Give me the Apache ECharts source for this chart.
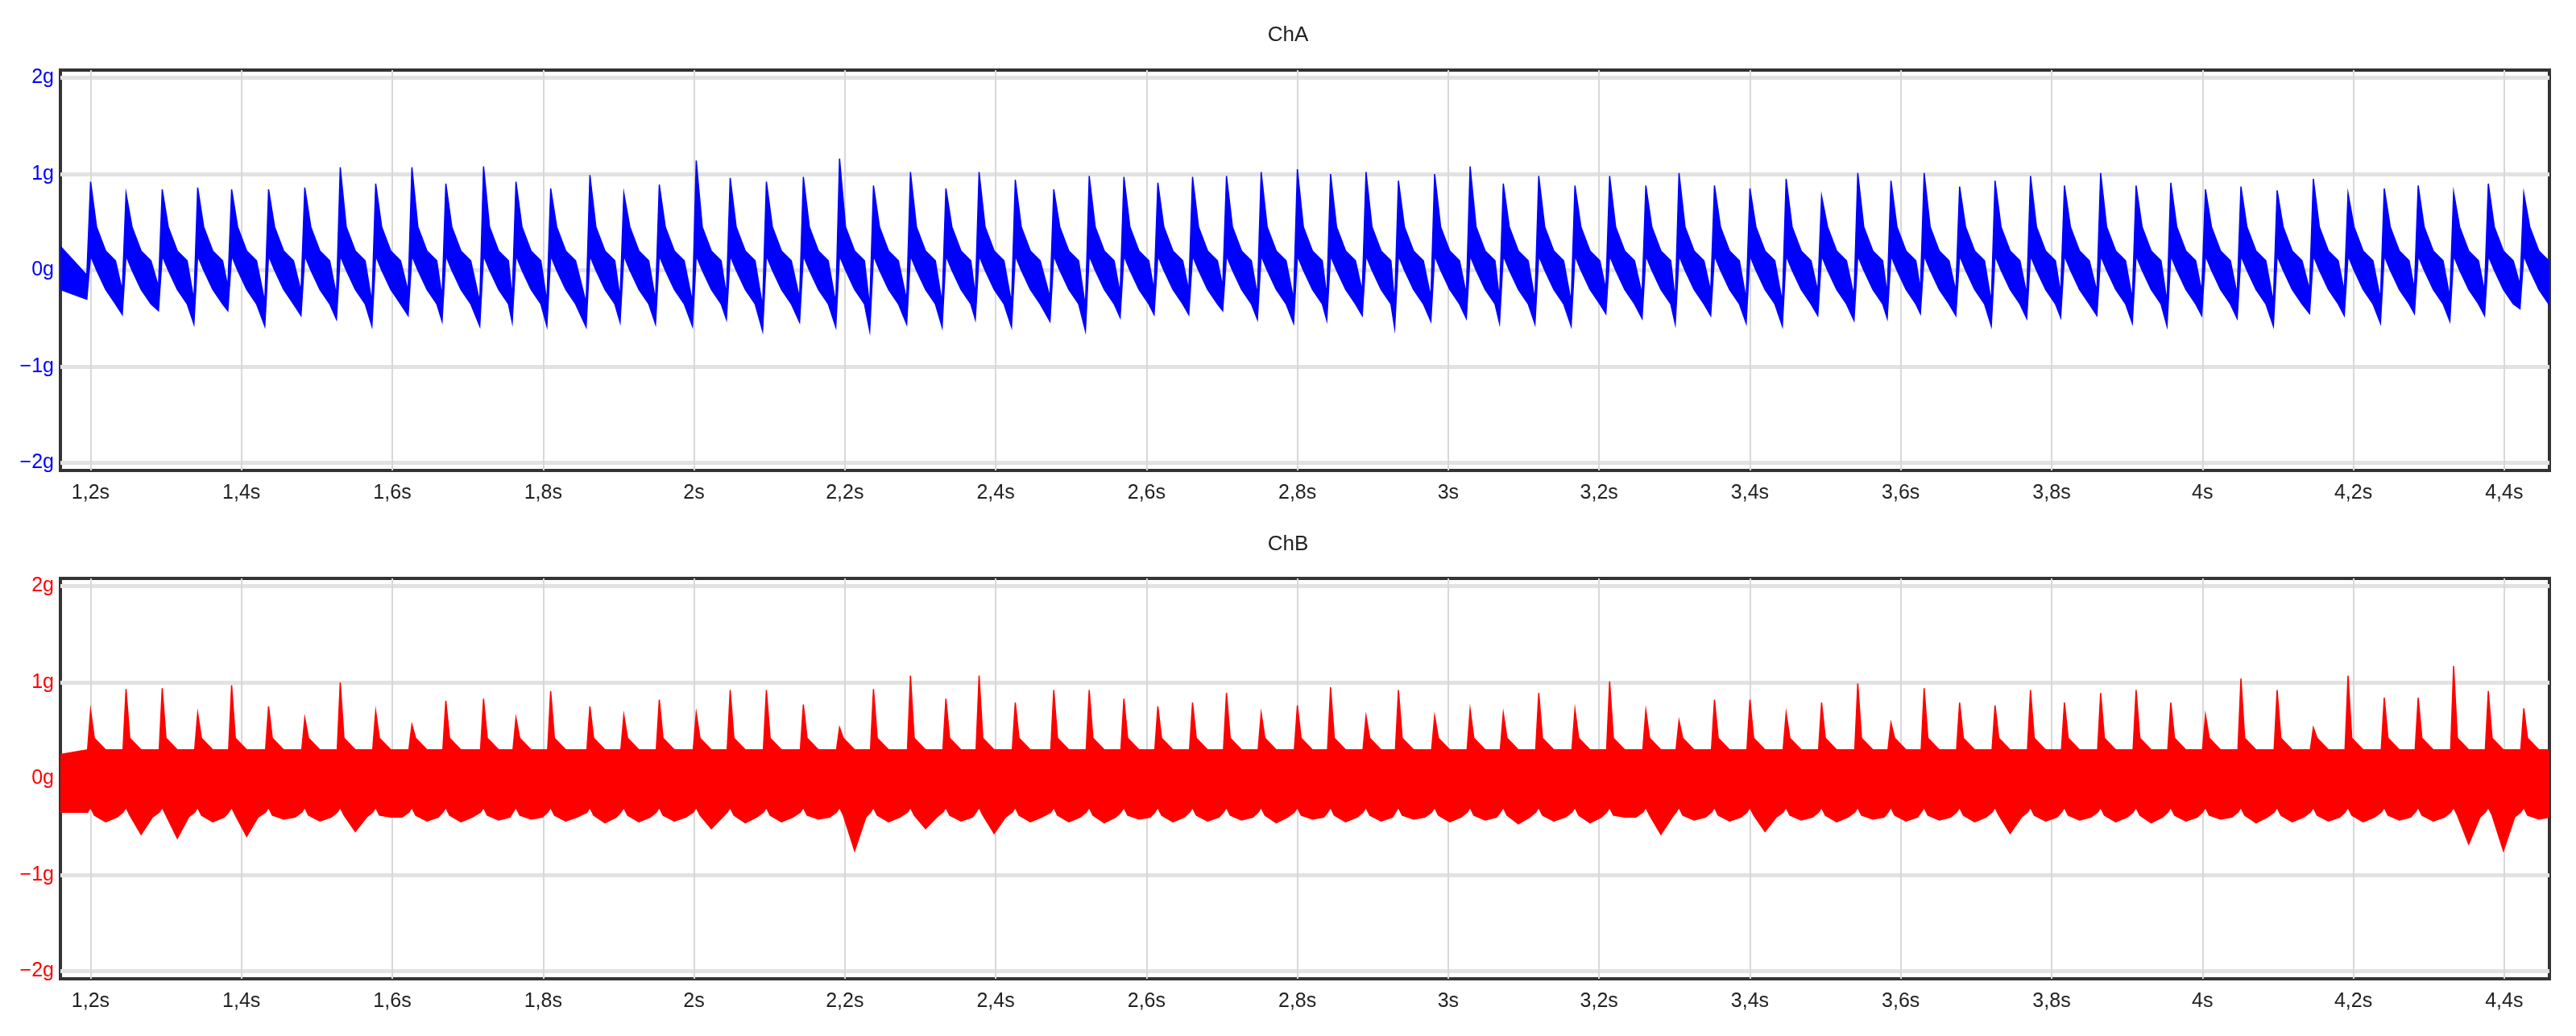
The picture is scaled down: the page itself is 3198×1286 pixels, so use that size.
<!DOCTYPE html>
<html>
<head>
<meta charset="utf-8">
<script src="https://cdn.jsdelivr.net/npm/echarts@6/dist/echarts.min.js"></script>
<style>
html, body { margin: 0; padding: 0; background: #fff; }
#chart { width: 3198px; height: 1286px; }
</style>
</head>
<body>
<div id="chart"></div>
<script>
// times of the per-cycle peaks (s)
var peakTimes = [1.200, 1.247, 1.295, 1.342, 1.387, 1.436, 1.484, 1.531, 1.578, 1.626, 1.671, 1.721,
    1.764, 1.810, 1.862, 1.907, 1.954, 2.003, 2.048, 2.096, 2.145, 2.193, 2.238, 2.287, 2.334, 2.378,
    2.426, 2.477, 2.524, 2.570, 2.615, 2.661, 2.706, 2.752, 2.800, 2.844, 2.891, 2.934, 2.982, 3.029,
    3.073, 3.120, 3.168, 3.214, 3.262, 3.306, 3.353, 3.400, 3.448, 3.495, 3.543, 3.587, 3.631, 3.678,
    3.725, 3.772, 3.817, 3.865, 3.912, 3.958, 4.004, 4.051, 4.099, 4.147, 4.193, 4.241, 4.286, 4.333,
    4.379, 4.426];
// ChA peak heights (g)
var chAPeaks = [0.92, 0.80, 0.84, 0.86, 0.84, 0.84, 0.86, 1.07, 0.90, 1.07, 0.90, 1.08, 0.92, 0.85,
    0.99, 0.80, 0.89, 1.14, 0.96, 0.92, 0.97, 1.16, 0.88, 1.02, 0.85, 1.02, 0.94, 0.84, 0.98, 0.97,
    0.91, 0.97, 0.98, 1.02, 1.05, 1.00, 1.02, 0.93, 1.00, 1.08, 0.90, 0.98, 0.88, 0.98, 0.88, 1.01,
    0.88, 0.85, 0.95, 0.77, 1.01, 0.93, 1.01, 0.87, 0.93, 0.98, 0.88, 1.01, 0.88, 0.91, 0.84, 0.87,
    0.83, 0.95, 0.80, 0.85, 0.88, 0.81, 0.90, 0.80];
// ChA troughs just before each peak (g)
var chATroughs = [-0.30, -0.46, -0.42, -0.56, -0.42, -0.58, -0.47, -0.51, -0.58, -0.47, -0.53, -0.58,
    -0.54, -0.58, -0.59, -0.54, -0.56, -0.58, -0.51, -0.63, -0.54, -0.59, -0.63, -0.56, -0.59, -0.51,
    -0.59, -0.53, -0.63, -0.49, -0.46, -0.46, -0.42, -0.51, -0.55, -0.52, -0.47, -0.60, -0.53, -0.50,
    -0.55, -0.56, -0.58, -0.45, -0.50, -0.56, -0.47, -0.55, -0.58, -0.47, -0.52, -0.50, -0.45, -0.47,
    -0.58, -0.50, -0.49, -0.47, -0.55, -0.58, -0.47, -0.50, -0.58, -0.45, -0.47, -0.55, -0.45, -0.53,
    -0.47, -0.40];
// ChB spike heights (g)
var chBPeaks = [0.71, 0.93, 0.94, 0.68, 0.97, 0.75, 0.63, 1.00, 0.70, 0.56, 0.81, 0.83, 0.63, 0.91,
    0.75, 0.66, 0.82, 0.68, 0.92, 0.92, 0.77, 0.53, 0.93, 1.07, 0.83, 1.07, 0.79, 0.92, 0.92, 0.83,
    0.75, 0.79, 0.89, 0.68, 0.76, 0.95, 0.65, 0.92, 0.65, 0.72, 0.68, 0.89, 0.72, 1.01, 0.71, 0.60,
    0.82, 0.82, 0.68, 0.79, 0.99, 0.58, 0.94, 0.79, 0.76, 0.92, 0.79, 0.89, 0.92, 0.79, 0.66, 1.04,
    0.92, 0.53, 1.07, 0.84, 0.84, 1.17, 0.91, 0.73];
// ChB lowest dip in each cycle (g)
var chBDips = [-0.45, -0.58, -0.62, -0.45, -0.60, -0.42, -0.44, -0.55, -0.40, -0.44, -0.45, -0.43,
    -0.42, -0.44, -0.46, -0.45, -0.44, -0.52, -0.46, -0.45, -0.42, -0.75, -0.45, -0.52, -0.44, -0.57,
    -0.45, -0.45, -0.46, -0.42, -0.45, -0.44, -0.43, -0.46, -0.42, -0.45, -0.44, -0.42, -0.45, -0.43,
    -0.47, -0.44, -0.46, -0.40, -0.58, -0.43, -0.44, -0.55, -0.43, -0.45, -0.42, -0.44, -0.43, -0.45,
    -0.57, -0.44, -0.43, -0.45, -0.46, -0.44, -0.42, -0.46, -0.45, -0.44, -0.45, -0.43, -0.44, -0.68,
    -0.75, -0.42];
var yTicks = [-2, -1, 0, 1, 2];
var xTicks = [1.2, 1.4, 1.6, 1.8, 2, 2.2, 2.4, 2.6, 2.8, 3, 3.2, 3.4, 3.6, 3.8, 4, 4.2, 4.4];

// rows [t, upper, lower]; the band between the envelopes is the noisy trace
function envelopes(peaks, lowVals, isA) {
    var rows = [];
    function add(t, u, l) { rows.push([t, u, l]); }
    add(1.16, 0.25, isA ? -0.2 : -0.35);
    for (var i = 0; i < peakTimes.length; i++) {
        var t = peakTimes[i];
        if (isA) {
            add(t - 0.005, lowVals[i] + 0.25, lowVals[i]);
            add(t, peaks[i], 0.15);
            add(t + 0.008, 0.45, 0.0);
            add(t + 0.02, 0.2, -0.2);
            add(t + 0.033, 0.1, -0.35);
        } else {
            add(t - 0.004, 0.3, -0.35);
            add(t, peaks[i], -0.3);
            add(t + 0.005, 0.42, -0.38);
            add(t + 0.02, 0.3, lowVals[i]);
            add(t + 0.035, 0.3, -0.4);
        }
    }
    add(4.46, isA ? 0.1 : 0.3, isA ? -0.25 : -0.35);
    return rows;
}

var rowsA = envelopes(chAPeaks, chATroughs, true);
var rowsB = envelopes(chBPeaks, chBDips, false);

function band(rows, color, idx) {
    return {
        type: 'custom', xAxisIndex: idx, yAxisIndex: idx, data: rows, silent: true, clip: true,
        renderItem: function (params, api) {
            if (params.dataIndex !== 0) return;
            var pts = [];
            rows.forEach(function (r) { pts.push(api.coord([r[0], r[1]])); });
            for (var i = rows.length - 1; i >= 0; i--) pts.push(api.coord([rows[i][0], rows[i][2]]));
            return {type: 'polygon', shape: {points: pts},
                style: {fill: color, stroke: color, lineWidth: 1.5}};
        }
    };
}

var font = '"Liberation Sans Narrow", "Liberation Sans", Arial, sans-serif';

function xAxis(idx) {
    return {
        type: 'value', gridIndex: idx, min: 1.16, max: 4.46,
        axisLine: {show: false}, axisTick: {show: false, customValues: xTicks},
        axisLabel: {customValues: xTicks, color: '#222', fontFamily: font, fontSize: 25, margin: 16,
            formatter: function (v) { return String(+v.toFixed(1)).replace('.', ',') + 's'; }},
        splitLine: {show: true, lineStyle: {color: '#d8d8d8', width: 2}}
    };
}
function yAxis(idx, color) {
    return {
        type: 'value', gridIndex: idx, min: -2.08, max: 2.08,
        axisLine: {show: false}, axisTick: {show: false, customValues: yTicks},
        axisLabel: {customValues: yTicks, color: color, fontFamily: font, fontSize: 25, margin: 8,
            formatter: function (v) { return (v < 0 ? '\u2212' + (-v) : v) + 'g'; }},
        splitLine: {show: true, lineStyle: {color: '#e2e2e2', width: 5}}
    };
}

var chart = echarts.init(document.getElementById('chart'));
chart.setOption({
    animation: false,
    backgroundColor: '#fff',
    title: [
        {text: 'ChA', left: 'center', top: 26, textStyle: {fontFamily: font, fontSize: 26, fontWeight: 'normal', color: '#222'}},
        {text: 'ChB', left: 'center', top: 658, textStyle: {fontFamily: font, fontSize: 26, fontWeight: 'normal', color: '#222'}}
    ],
    grid: [
        {left: 75, right: 33, top: 87, height: 497, show: true, borderColor: '#333', borderWidth: 4},
        {left: 75, right: 33, top: 718, height: 497, show: true, borderColor: '#333', borderWidth: 4}
    ],
    xAxis: [xAxis(0), xAxis(1)],
    yAxis: [yAxis(0, '#0000ff'), yAxis(1, '#ff0000')],
    series: [band(rowsA, '#0000ff', 0), band(rowsB, '#ff0000', 1)]
});
</script>
</body>
</html>
